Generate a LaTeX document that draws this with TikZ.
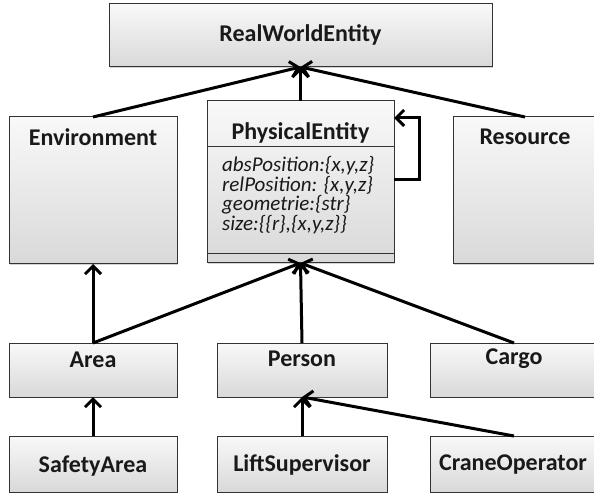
\documentclass[tikz,border=0pt]{standalone}
\usepackage{fontspec}
\setmainfont{Carlito}
\usetikzlibrary{arrows.meta,shadows}
\tikzset{
  umlbox/.style={draw=black!80, line width=1pt, top color=gray!5, bottom color=gray!30,
    drop shadow={shadow xshift=1.2pt,shadow yshift=-1.2pt,opacity=0.35},
    inner sep=0pt, outer sep=0pt},
  boxlabel/.style={font=\bfseries\fontsize{24}{26}\selectfont, inner sep=0pt, text=black!90},
  attr/.style={font=\itshape\fontsize{21}{21}\selectfont, inner sep=0pt, anchor=base west,
    text height=12pt, text depth=3pt, text=black!90},
  arr/.style={line width=3pt, -{Straight Barb[length=8pt,width=16pt]}},
  divider/.style={draw=black!80, line width=1pt}
}
\begin{document}
\begin{tikzpicture}[x=1pt,y=-1pt]
\useasboundingbox (0,0) rectangle (594,494);
% boxes
\node[umlbox, minimum width=383pt, minimum height=63pt] (rwe) at (300.5,35.5) {};
\node[umlbox, minimum width=168pt, minimum height=147pt] (env) at (93,190.5) {};
\node[umlbox, minimum width=187pt, minimum height=162pt] (pe) at (300.5,182) {};
\node[umlbox, minimum width=144pt, minimum height=147pt] (res) at (525,190.5) {};
\node[umlbox, minimum width=168pt, minimum height=54pt] (area) at (93,370) {};
\node[umlbox, minimum width=170pt, minimum height=54pt] (person) at (302,370) {};
\node[umlbox, minimum width=168pt, minimum height=54pt] (cargo) at (514,370) {};
\node[umlbox, minimum width=168pt, minimum height=56pt] (safety) at (93,464) {};
\node[umlbox, minimum width=170pt, minimum height=56pt] (lift) at (302,464) {};
\node[umlbox, minimum width=168pt, minimum height=56pt] (crane) at (514,464) {};
% dividers of PhysicalEntity
\draw[divider] (pe.west |- 0,147) -- (pe.east |- 0,147);
\draw[divider] (pe.west |- 0,254) -- (pe.east |- 0,254);
% labels
\node[boxlabel] (rwe-t) at (300.5,35) {RealWorldEntity};
\node[boxlabel] (env-t) at (93,137) {Environment};
\node[boxlabel] (pe-t) at (300.5,133) {PhysicalEntity};
\node[boxlabel] (res-t) at (525,137) {Resource};
\node[boxlabel] (area-t) at (93,360) {Area};
\node[boxlabel] (person-t) at (302,359) {Person};
\node[boxlabel] (cargo-t) at (514,359) {Cargo};
\node[boxlabel] (safety-t) at (93,466) {SafetyArea};
\node[boxlabel] (lift-t) at (302,465) {LiftSupervisor};
\node[boxlabel] (crane-t) at (513,465) {CraneOperator};
% attributes
\node[attr] (a1) at (222,172) {absPosition:\{x,y,z\}};
\node[attr] (a2) at (222,191.5) {relPosition: \{x,y,z\}};
\node[attr] (a3) at (222,211) {geometrie:\{str\}};
\node[attr] (a4) at (222,230.5) {size:\{\{r\},\{x,y,z\}\}};
% connectors
\draw[arr] (env.north) -- (rwe.south);
\draw[arr] (pe.north) -- (rwe.south);
\draw[arr] (res.north) -- (rwe.south);
\draw[arr] ([yshift=2pt]pe.east) -- ++(25,0) |- ([yshift=64pt]pe.east);
\draw[arr] (area.north) -- (env.south);
\draw[arr] (area.north) -- (pe.south);
\draw[arr] (person.north) -- (pe.south);
\draw[arr] (cargo.north) -- (pe.south);
\draw[arr] (safety.north) -- (area.south);
\draw[arr] (lift.north) -- (person.south);
\draw[arr] (crane.north) -- (person.south);
\end{tikzpicture}
\end{document}
